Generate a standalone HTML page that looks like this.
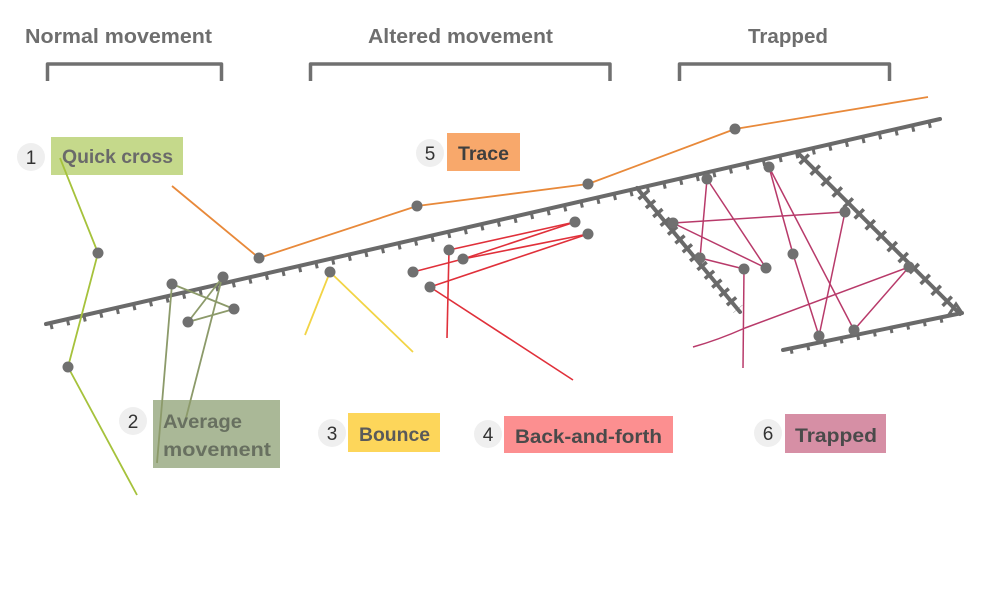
<!DOCTYPE html>
<html><head><meta charset="utf-8"><style>
html,body{margin:0;padding:0;background:#fff;}
svg{display:block;}
text{font-family:"Liberation Sans",Arial,sans-serif;}
</style></head><body>
<svg width="1000" height="591" viewBox="0 0 1000 591" xmlns="http://www.w3.org/2000/svg">
<rect width="1000" height="591" fill="#fff"/>
<!-- headers -->
<g font-size="20" font-weight="bold" fill="#6e6e6e">
<text x="25" y="43" textLength="187" lengthAdjust="spacingAndGlyphs">Normal movement</text>
<text x="368" y="43" textLength="185" lengthAdjust="spacingAndGlyphs">Altered movement</text>
<text x="748" y="43" textLength="80" lengthAdjust="spacingAndGlyphs">Trapped</text>
</g>
<g fill="none" stroke="#707070" stroke-width="3.5" stroke-linejoin="round">
<path d="M47.5,81 V64 H221.5 V81"/>
<path d="M310.5,81 V64 H610 V81"/>
<path d="M679.5,81 V64 H889.5 V81"/>
</g>

<!-- boxes -->
<rect x="51" y="137" width="132" height="38" fill="#c5d98b"/>
<rect x="153" y="400" width="127" height="68" fill="#aab897"/>
<rect x="447" y="133" width="73" height="38" fill="#f8a86b"/>
<rect x="348" y="413" width="92" height="39" fill="#fdd65a"/>
<rect x="504" y="416" width="169" height="37" fill="#fc8f90"/>
<rect x="785" y="414" width="101" height="39" fill="#d68fa5"/>

<!-- number circles -->
<g fill="#efefef">
<circle cx="31" cy="157" r="14"/>
<circle cx="133" cy="421" r="14"/>
<circle cx="430" cy="153" r="14"/>
<circle cx="332" cy="433" r="14"/>
<circle cx="488" cy="434" r="14"/>
<circle cx="768" cy="433" r="14"/>
</g>
<g font-size="19" fill="#333" text-anchor="middle">
<text x="31" y="164">1</text>
<text x="133" y="428">2</text>
<text x="430" y="160">5</text>
<text x="332" y="440">3</text>
<text x="488" y="441">4</text>
<text x="768" y="440">6</text>
</g>

<!-- fences -->
<g stroke="#6a6a6a" fill="none" stroke-linecap="round">
<line x1="46" y1="324" x2="940" y2="119" stroke-width="4"/>
<line x1="50" y1="326.5" x2="936" y2="123.5" stroke-width="6" stroke-dasharray="3 14" stroke-linecap="butt"/>
<line x1="797" y1="152" x2="960" y2="314" stroke-width="4"/>
<line x1="803" y1="158" x2="955" y2="309" stroke-width="13" stroke-dasharray="3.5 12" stroke-linecap="butt"/>
<line x1="637" y1="188" x2="740" y2="312" stroke-width="4"/>
<line x1="642" y1="194" x2="738" y2="309" stroke-width="12" stroke-dasharray="3.5 8" stroke-linecap="butt"/>
<line x1="783" y1="350" x2="962" y2="313" stroke-width="4"/>
<line x1="790" y1="351" x2="945" y2="319" stroke-width="6" stroke-dasharray="3 14" stroke-linecap="butt"/>
<path d="M948,316 L956,304 L962,313" stroke-width="3"/>
</g>

<!-- trajectories -->
<g fill="none" stroke-width="1.8" stroke-linejoin="round">
<polyline points="60,158 98,253 68,367 137,495" stroke="#a6c23c"/>
<g stroke="#8c9a6a">
<line x1="172" y1="284" x2="157" y2="463"/>
<line x1="222" y1="278" x2="186" y2="418"/>
<line x1="172" y1="284" x2="234" y2="309"/>
<line x1="222" y1="278" x2="188" y2="322"/>
<line x1="188" y1="322" x2="234" y2="309"/>
</g>
<polyline points="172,186 259,258 417,206 588,184 735,129 928,97" stroke="#e8893a"/>
<polyline points="305,335 330,272 413,352" stroke="#f2d446"/>
<g stroke="#e0303a" stroke-width="1.6">
<line x1="449" y1="250" x2="575" y2="222"/>
<line x1="449" y1="250" x2="447" y2="338"/>
<line x1="463" y1="259" x2="575" y2="222"/>
<line x1="413" y1="272" x2="463" y2="259"/>
<line x1="463" y1="259" x2="588" y2="234"/>
<line x1="430" y1="287" x2="588" y2="234"/>
<line x1="430" y1="287" x2="573" y2="380"/>
</g>
<g stroke="#b83a6a" stroke-width="1.5">
<line x1="707" y1="179" x2="700" y2="258"/>
<line x1="707" y1="179" x2="766" y2="268"/>
<line x1="673" y1="223" x2="845" y2="212"/>
<line x1="673" y1="223" x2="766" y2="268"/>
<line x1="700" y1="258" x2="744" y2="269"/>
<line x1="744" y1="269" x2="743" y2="368"/>
<polyline points="769,167 793,254 819,336"/>
<line x1="769" y1="167" x2="854" y2="330"/>
<line x1="845" y1="212" x2="819" y2="336"/>
<line x1="909" y1="267" x2="854" y2="330"/>
<path d="M909,267 L745,328 Q718,340 693,347"/>
</g>
</g>

<!-- dots -->
<g fill="#707070">
<circle cx="98" cy="253" r="5.5"/>
<circle cx="68" cy="367" r="5.5"/>
<circle cx="172" cy="284" r="5.5"/>
<circle cx="223" cy="277" r="5.5"/>
<circle cx="234" cy="309" r="5.5"/>
<circle cx="188" cy="322" r="5.5"/>
<circle cx="259" cy="258" r="5.5"/>
<circle cx="417" cy="206" r="5.5"/>
<circle cx="588" cy="184" r="5.5"/>
<circle cx="735" cy="129" r="5.5"/>
<circle cx="330" cy="272" r="5.5"/>
<circle cx="449" cy="250" r="5.5"/>
<circle cx="463" cy="259" r="5.5"/>
<circle cx="413" cy="272" r="5.5"/>
<circle cx="430" cy="287" r="5.5"/>
<circle cx="575" cy="222" r="5.5"/>
<circle cx="588" cy="234" r="5.5"/>
<circle cx="707" cy="179" r="5.5"/>
<circle cx="769" cy="167" r="5.5"/>
<circle cx="673" cy="223" r="5.5"/>
<circle cx="700" cy="258" r="5.5"/>
<circle cx="744" cy="269" r="5.5"/>
<circle cx="766" cy="268" r="5.5"/>
<circle cx="793" cy="254" r="5.5"/>
<circle cx="845" cy="212" r="5.5"/>
<circle cx="909" cy="267" r="5.5"/>
<circle cx="819" cy="336" r="5.5"/>
<circle cx="854" cy="330" r="5.5"/>
</g>

<!-- labels -->
<g font-size="19" font-weight="bold">
<text x="62" y="163" textLength="111" lengthAdjust="spacingAndGlyphs" fill="#6a6a6a">Quick cross</text>
<text x="163" y="428" textLength="79" lengthAdjust="spacingAndGlyphs" fill="#687060">Average</text>
<text x="163" y="456" textLength="108" lengthAdjust="spacingAndGlyphs" fill="#687060">movement</text>
<text x="458" y="160" textLength="51" lengthAdjust="spacingAndGlyphs" fill="#3f3f3f">Trace</text>
<text x="359" y="441" textLength="71" lengthAdjust="spacingAndGlyphs" fill="#5a5a5a">Bounce</text>
<text x="515" y="443" textLength="147" lengthAdjust="spacingAndGlyphs" fill="#4a4a4a">Back-and-forth</text>
<text x="795" y="442" textLength="82" lengthAdjust="spacingAndGlyphs" fill="#4a4a4a">Trapped</text>
</g>
</svg>
</body></html>
